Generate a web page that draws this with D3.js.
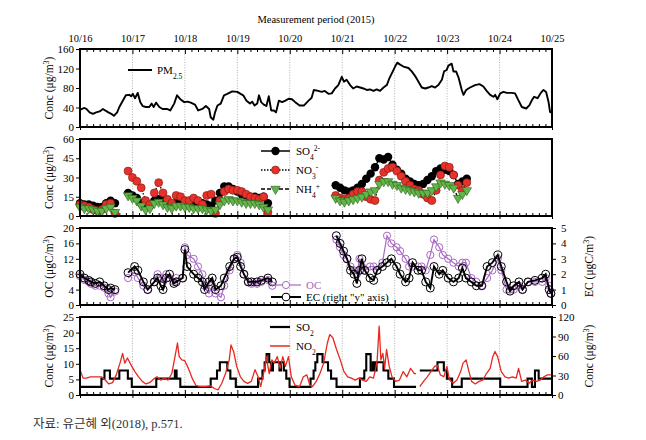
<!DOCTYPE html>
<html><head><meta charset="utf-8">
<script src="https://cdn.jsdelivr.net/npm/d3@7"></script>
<style>
body{margin:0;background:#fff;}
svg{display:block;font-family:"Liberation Serif","Times New Roman",serif;}
</style></head><body>
<svg id="c" width="646" height="440"></svg>
<script>
// ---------- data ----------
const dayLabels = ["10/16","10/17","10/18","10/19","10/20","10/21","10/22","10/23","10/24","10/25"];
const dayHours = [0,24,48,72,96,120,144,168,192,216];
const minorHours = [3,6,9,12,15,18,21,27,30,33,36,39,42,45,51,54,57,60,63,66,69,75,78,81,84,87,90,93,99,102,105,108,111,114,117,123,126,129,132,135,138,141,147,150,153,156,159,162,165,171,174,177,180,183,186,189,195,198,201,204,207,210,213];

// PM2.5 (hours since 10/16 00:00, µg/m3)
const pmHours = [0,1.8,2.9,4.4,5.9,7.4,9,10.5,11.5,13,14.3,15.5,17,18,19.6,21,22.6,23.4,24.2,25.2,26.4,27.6,28.7,30.2,31.7,32.8,33.7,34.8,36.3,37.8,39.8,41.3,43.1,44.4,45.9,47.7,49.2,50.7,52.6,54.1,56,57.6,59.1,59.8,61,61.8,62.9,64.4,65.9,67.4,69.7,72,73.5,74.7,76.2,77.8,78.8,79.9,81.1,81.9,82.9,84.1,85.3,86.4,87.5,88.7,89.7,91,92.5,94,95.5,97,98.5,100.5,102.4,104.6,106,107,109,110.6,112,113.7,115.2,116.7,118.2,119.8,120.8,122,123.6,125,126.6,128.2,129.7,131.2,132.7,134.3,135.8,137.3,138.9,140.4,141.6,142.7,144.2,145.2,146.5,148,150.3,151.8,153.3,154.9,156.4,158,159.4,161,162.5,164,165.6,166.6,167.8,168.6,170.1,170.9,172.1,173.2,174.7,175.5,176.7,178.5,180.8,182.8,184.6,186.1,187.7,189.2,190,191,192.3,193.8,195.3,197.6,199.1,200.6,202.2,204.2,205.7,206.8,207.8,209.4,210.9,212.1,213.3,214.4,215.1,216];
const pmValues = [35,39,37,30,27,30,32,37,34,30,27,23,30,41,54,65,66,63,68,59,70,51,43,41,41,48,41,50,41,37,37,34,48,65,57,51,52,50,46,34,37,43,37,20,15,30,44,48,65,68,73,72,68,65,54,48,52,44,48,65,51,46,43,63,34,34,30,54,51,54,58,57,51,44,44,54,60,76,74,72,74,68,69,79,86,103,93,97,86,79,83,81,79,76,77,74,77,74,81,86,100,110,124,132,128,124,121,114,105,93,81,79,81,84,81,86,97,114,117,126,130,114,114,102,76,66,76,81,86,88,83,74,66,62,66,57,69,72,70,70,69,55,41,38,45,55,62,59,70,76,72,52,31,29];

// Water-soluble ions (3 measurement segments)
const ionHours = [
  [0,2,4,6,8,10,12,14,16],
  [22,24,26,28,30,32,34,36,38,40,42,44,46,48,50,52,54,56,58,60,62,64,66,68,70,72,74,76,78,80,82,84,86],
  [117,119,121,123,125,127,129,131,133,135,137,139,141,143,145,147,149,151,153,155,157,159,161,163,165,167,169,171,173,175,177]
];
const so4 = [
  [10,9,9,8,7,7,10,12,10],
  [18,16,14,10,7,8,12,13,12,10,9,10,10,9,9,8,9,10,9,8,12,18,23,23,21,19,17,16,15,15,14,15,10],
  [24,22,20,19,20,22,25,29,33,38,45,44,46,40,36,33,29,27,25,24,25,28,31,35,37,36,35,32,25,27,29]
];
const no3 = [
  [9,8,7,5,4,5,9,10,2],
  [35,30,27,22,12,9,18,26,18,13,10,16,15,12,12,14,12,9,16,17,2,12,19,21,20,20,19,17,15,14,13,15,3],
  [16,14,13,14,17,19,19,15,13,12,28,34,37,38,35,31,27,24,21,20,17,14,12,20,32,39,38,32,24,20,26]
];
const nh4 = [
  [7,6,6,5,4,4,6,7,3],
  [16,14,12,8,5,6,10,11,9,7,6,8,8,7,7,6,6,6,5,4,5,9,12,13,12,12,11,10,10,10,9,7,5],
  [14,12,11,12,13,14,15,17,19,20,25,27,27,25,24,22,21,20,19,18,18,18,20,23,26,25,24,22,14,17,20]
];

// OC (left axis, µgC/m3) and EC (right axis, µgC/m3)
const carbonHours = [
  [0,2,4,5,7,9,11,13,14,16],
  [22,25,26.5,29,31,34,35.5,37,38,39.5,41,43,44,47,48,49,52,54,56,57,59,60.5,62,64.5,66,68.5,70.5,72,73.5,75,77,78.5,81,83,86,88],
  [117.3,119,120.6,122.2,123.8,125.4,126.7,127.9,129,130.3,132.7,134.4,136,138.4,140.5,142.5,144.9,146.5,149,150.6,152.2,154.7,156.3,158.2,160.3,162,164.4,166,168.5,170.9,173.3,175,176.6,179.1,181.4,183.9,186.3,188.7,191.2,192.8,195.2,196.8,198.5,200.9,202.5,205,208.2,211.5,213.1,214.7,215.5]
];
const ocValues = [
  [7.5,6.5,6,5.5,5,5,4.5,3,2,3.5],
  [7,8.5,7,5,4,6,8,7,6,8,7,6,7,7,15,13,12,10,8,5,3,5,3,2,5,9,12,13,11,8,6,5.5,5.5,6,6.5,5],
  [17,15,13,12,10,9,8,12,10,9,10,10,9,11,18,16,15,14,12,10,10,10,10,9,13,17,15,13,12,11,10,11,11,7,6,5,7,9,12,9,4,4,4,5,4,6,6,6,7,5,3]
];
const ecValues = [
  [2.0,1.75,1.6,1.5,1.4,1.5,1.25,1.0,1.1,1.0],
  [2.1,2.5,2.25,1.5,1.0,1.5,1.75,1.25,1.0,1.75,2.0,1.4,1.5,1.75,3.6,2.5,2.0,1.75,1.5,1.0,1.5,1.75,1.0,1.25,1.75,2.5,3.0,3.1,2.5,2.0,1.5,1.5,1.5,1.6,1.75,1.5],
  [4.5,4.0,3.5,3.0,2.25,2.0,1.4,2.25,3.0,2.25,1.75,1.6,2.25,2.5,2.75,3.0,2.5,2.0,1.5,1.75,2.75,2.25,2.25,1.5,1.1,2.5,2.0,2.25,1.75,1.5,1.75,2.4,1.75,1.5,1.25,1.25,2.5,2.75,3.25,2.5,1.5,0.9,1.25,1.5,1.0,1.5,1.6,1.75,2.0,1.0,0.75]
];

// SO2 (left axis, step changes) and NO2 (right axis)
const so2Hours = [
  [0,9.8,11.2,13.7,18,21.9,23.7,34.9,43.4,44.2,45.9,59.8,62.7,64,67.4,68.8,71.3,81.5,83.5,84.5,85.4,86.6,87.4,88.3,91.3,92,93.3,94.4,95.9,105.5,106.9,107.7,108.6,111,113.5,114.9,117.4,128.1,130.1,131,133,134,134.8,135.7,138.9,141.1,143.7,153.8],
  [155.5,163.6,166.5,167.9,170.3,174.7,192.3,204.8,206.8,208.2,209.9,216]
];
const so2Values = [
  [2.62,5.24,7.86,5.24,7.86,5.24,2.62,5.24,7.86,5.24,2.62,5.24,7.86,10.48,7.86,5.24,2.62,5.24,7.86,10.48,13.1,10.48,7.86,10.48,7.86,10.48,7.86,5.24,2.62,5.24,7.86,10.48,13.1,10.48,7.86,5.24,2.62,5.24,7.86,13.1,7.86,10.48,7.86,10.48,7.86,5.24,2.62,2.62],
  [7.86,10.48,7.86,5.24,2.62,5.24,2.62,5.24,2.62,7.86,5.24,5.24]
];
const no2Hours = [
  [0,1.4,3.0,4.7,7.3,9.8,11.5,13.2,14.9,16.6,18.3,19.5,20.5,21.7,23.4,25.1,26.8,28.5,30.2,31.8,33.5,35.2,36.9,38.6,40.3,42,43.2,44.6,45.4,46.6,47.9,49.6,51.3,53,54.7,57.3,59.8,61.5,63.2,64.9,66.6,68.3,69.1,70.3,71.7,73.4,75,76.7,78.4,80.1,81.5,82.7,84.4,85.2,86.6,87.8,88.9,90.3,91.6,92.8,94,95.4,96.7,98.4,100.5,102.2,103.8,105.2,106.4,108.1,109.8,111.5,113.2,114.3,115.7,117.4,119.1,120.8,122.5,124.2,125.9,127.6,129.3,131,132.6,134.3,135.2,136,136.9,137.7,138.6,139.4,140.3,141.5,142.8,144.5,146.2,147.9,149.6,151.3,153,153.8],
  [155.5,157.2,158.9,160.6,162.3,163.5,164.9,166.5,167.9,169.1,170.8,172.5,174.2,175.3,176.7,178,179.2,180.9,182.6,184.3,186,187.7,188.9,189.9,191.1,192.8,194.5,196.2,197.9,199.6,200.7,202.1,203.8,205.5,207.2,208.9,210.6,212.3,213.9,216]
];
const no2Values = [
  [39,26,26,28,28,28,23,17,19,31,49,64,49,57,46,36,28,21,17,19,24,28,23,26,23,33,54,80,59,54,53,41,26,15,13,13,14,10,8,18,33,54,77,67,44,28,21,18,21,39,28,13,39,59,33,54,49,59,41,59,44,59,28,15,13,28,31,15,13,21,33,49,80,93,88,70,54,36,28,26,23,26,23,21,28,26,39,54,106,54,64,41,70,44,28,21,23,36,28,41,33,33],
  [13,21,28,36,44,46,31,28,44,23,18,23,36,49,54,36,21,17,21,23,33,41,59,67,59,36,28,26,28,26,41,21,23,18,23,21,23,28,31,31]
];

// ---------- drawing ----------
const svg = d3.select("#c");
const x = d3.scaleLinear().domain([0,216]).range([80,552]);
const P = [{t:49,b:127},{t:139,b:216},{t:228,b:305},{t:317,b:395}];
const y1 = d3.scaleLinear().domain([0,160]).range([P[0].b,P[0].t]);
const y2 = d3.scaleLinear().domain([0,60]).range([P[1].b,P[1].t]);
const y3 = d3.scaleLinear().domain([0,20]).range([P[2].b,P[2].t]);
const y3r = d3.scaleLinear().domain([0,5]).range([P[2].b,P[2].t]);
const y4 = d3.scaleLinear().domain([0,25]).range([P[3].b,P[3].t]);
const y4r = d3.scaleLinear().domain([0,120]).range([P[3].b,P[3].t]);
const TF = 11;
const FONT = '"Liberation Serif","Times New Roman",serif';

function styleAxis(g){
  g.select(".domain").remove();
  g.selectAll("line").attr("stroke","#000").attr("stroke-width",1);
  g.selectAll("text").attr("font-size",TF).attr("fill","#000").attr("font-family",FONT);
}

// title
svg.append("text").attr("x",316).attr("y",23).attr("text-anchor","middle")
  .attr("font-size",10.5).text("Measurement period (2015)");

P.forEach((p,i)=>{
  svg.append("g").selectAll("line").data(dayHours.slice(1,-1)).join("line")
    .attr("x1",d=>x(d)).attr("x2",d=>x(d)).attr("y1",p.t).attr("y2",p.b)
    .attr("stroke","#9a9a9a").attr("stroke-width",0.8).attr("stroke-dasharray","1,1.6");
  svg.append("g").attr("transform",`translate(0,${p.b})`)
    .call(d3.axisBottom(x).tickValues(minorHours).tickSize(-3).tickFormat("")).call(styleAxis);
  svg.append("g").attr("transform",`translate(0,${p.b})`)
    .call(d3.axisBottom(x).tickValues(dayHours).tickSize(-5).tickFormat("")).call(styleAxis);
  svg.append("g").attr("transform",`translate(0,${p.b})`)
    .call(d3.axisBottom(x).tickValues(dayHours).tickSize(3).tickFormat("")).call(styleAxis);
});
svg.append("g").attr("transform",`translate(0,${P[0].t})`)
  .call(d3.axisTop(x).tickValues(minorHours).tickSize(-3).tickFormat("")).call(styleAxis);
svg.append("g").attr("transform",`translate(0,${P[0].t})`)
  .call(d3.axisTop(x).tickValues(dayHours).tickSize(-5).tickPadding(7)
    .tickFormat((d,i)=>dayLabels[i])).call(styleAxis)
  .call(g=>g.selectAll("text").attr("font-size",10.5));

const fmt = d3.format("d");
function leftAxis(scale, vals){
  svg.append("g").attr("transform",`translate(80,0)`)
    .call(d3.axisLeft(scale).tickValues(vals).tickSize(4).tickPadding(2).tickFormat(fmt)).call(styleAxis);
}
function rightAxis(scale, vals, pad){
  svg.append("g").attr("transform",`translate(552,0)`)
    .call(d3.axisRight(scale).tickValues(vals).tickSize(4).tickPadding(pad).tickFormat(fmt)).call(styleAxis);
}
leftAxis(y1,[0,40,80,120,160]);
leftAxis(y2,[0,15,30,45,60]);
leftAxis(y3,[0,4,8,12,16,20]);
rightAxis(y3r,[0,1,2,3,4,5],5);
leftAxis(y4,[0,5,10,15,20,25]);
rightAxis(y4r,[0,30,60,90,120],2);

function yTitle(xp, yc, main, unitPrefix){
  const t = svg.append("text").attr("transform",`translate(${xp},${yc}) rotate(-90)`)
    .attr("text-anchor","middle").attr("font-size",11.5);
  t.append("tspan").text(main+" ("+unitPrefix+"/m");
  t.append("tspan").attr("baseline-shift","super").attr("font-size",8).text("3");
  t.append("tspan").text(")");
}
yTitle(53,(P[0].t+P[0].b)/2,"Conc","μg");
yTitle(53,(P[1].t+P[1].b)/2,"Conc","μg");
yTitle(53,(P[2].t+P[2].b)/2,"OC","μgC");
yTitle(53,(P[3].t+P[3].b)/2,"Conc","μg");
yTitle(593,(P[2].t+P[2].b)/2,"EC","μgC");
yTitle(593,(P[3].t+P[3].b)/2,"Conc","μg");

// ---- panel 1: PM2.5
const pmData = pmHours.map((h,i)=>[h,pmValues[i]]);
svg.append("path").datum(pmData)
  .attr("d",d3.line().x(d=>x(d[0])).y(d=>y1(d[1])))
  .attr("fill","none").attr("stroke","#000").attr("stroke-width",1.9).attr("stroke-linejoin","round");

// ---- panel 2: ions
const RED="#e6322a", GREEN="#62b548", PURPLE="#a868c4", NO2RED="#e8281e";
const tri = d3.symbol().type(d3.symbolTriangle).size(38);
function ionSeries(vals, dash, drawMarker){
  ionHours.forEach((hs,s)=>{
    const data = hs.map((h,i)=>[h,vals[s][i]]);
    svg.append("path").datum(data)
      .attr("d",d3.line().x(d=>x(d[0])).y(d=>y2(d[1])))
      .attr("fill","none").attr("stroke","#000").attr("stroke-width",1.3)
      .attr("stroke-dasharray",dash);
    const g = svg.append("g");
    data.forEach(d=>drawMarker(g, x(d[0]), y2(d[1])));
  });
}
function blackDot(g,cx,cy){ g.append("circle").attr("cx",cx).attr("cy",cy).attr("r",4.2).attr("fill","#000"); }
function redDot(g,cx,cy){ g.append("circle").attr("cx",cx).attr("cy",cy).attr("r",4).attr("fill",RED).attr("stroke","#7a1a12").attr("stroke-width",0.6); }
function greenTri(g,cx,cy){ g.append("path").attr("d",tri()).attr("transform",`translate(${cx},${cy}) rotate(180)`).attr("fill",GREEN).attr("stroke","#2b5a1c").attr("stroke-width",0.6); }
ionSeries(so4,null,blackDot);
ionSeries(no3,"1.5,1.5",redDot);
ionSeries(nh4,"4,2",greenTri);

// ---- panel 3: OC / EC
carbonHours.forEach((hs,s)=>{
  const data = hs.map((h,i)=>[h,ocValues[s][i]]);
  svg.append("path").datum(data).attr("d",d3.line().x(d=>x(d[0])).y(d=>y3(d[1])))
    .attr("fill","none").attr("stroke",PURPLE).attr("stroke-width",1.2);
  svg.append("g").selectAll("circle").data(data).join("circle")
    .attr("cx",d=>x(d[0])).attr("cy",d=>y3(d[1])).attr("r",3.6)
    .attr("fill","none").attr("stroke",PURPLE).attr("stroke-width",1);
});
carbonHours.forEach((hs,s)=>{
  const data = hs.map((h,i)=>[h,ecValues[s][i]]);
  svg.append("path").datum(data).attr("d",d3.line().x(d=>x(d[0])).y(d=>y3r(d[1])))
    .attr("fill","none").attr("stroke","#000").attr("stroke-width",1.9);
  svg.append("g").selectAll("circle").data(data).join("circle")
    .attr("cx",d=>x(d[0])).attr("cy",d=>y3r(d[1])).attr("r",4)
    .attr("fill","none").attr("stroke","#000").attr("stroke-width",1);
});

// ---- panel 4: SO2 / NO2
so2Hours.forEach((hs,s)=>{
  const data = hs.map((h,i)=>[h,so2Values[s][i]]);
  svg.append("path").datum(data).attr("d",d3.line().curve(d3.curveStepAfter).x(d=>x(d[0])).y(d=>y4(d[1])))
    .attr("fill","none").attr("stroke","#000").attr("stroke-width",2.1);
});
no2Hours.forEach((hs,s)=>{
  const data = hs.map((h,i)=>[h,no2Values[s][i]]);
  svg.append("path").datum(data).attr("d",d3.line().x(d=>x(d[0])).y(d=>y4r(d[1])))
    .attr("fill","none").attr("stroke",NO2RED).attr("stroke-width",1.3).attr("stroke-linejoin","round");
});

// frames
P.forEach(p=>{
  svg.append("rect").attr("x",80).attr("y",p.t).attr("width",472).attr("height",p.b-p.t)
    .attr("fill","none").attr("stroke","#000").attr("stroke-width",2);
});

// ---- legends
function legText(xp, yp, parts, color){
  const t = svg.append("text").attr("x",xp).attr("y",yp).attr("font-size",11).attr("fill",color||"#000");
  parts.forEach(([s,kind])=>{
    const ts = t.append("tspan").text(s);
    if(kind==="sub") ts.attr("baseline-shift","sub").attr("font-size",7.5);
    if(kind==="sup") ts.attr("baseline-shift","super").attr("font-size",7.5);
  });
  return t;
}
svg.append("line").attr("x1",128).attr("x2",152).attr("y1",70).attr("y2",70).attr("stroke","#000").attr("stroke-width",2);
legText(157,74,[["PM",""],["2.5","sub"]]);
[[151,null,blackDot,[["SO",""],["4","sub"],["2-","sup"]]],
 [170,"1.5,1.5",redDot,[["NO",""],["3","sub"],["-","sup"]]],
 [189,"4,2",greenTri,[["NH",""],["4","sub"],["+","sup"]]]].forEach(([yy,dash,mk,txt])=>{
  svg.append("line").attr("x1",261).attr("x2",290).attr("y1",yy).attr("y2",yy)
    .attr("stroke","#000").attr("stroke-width",1.5).attr("stroke-dasharray",dash);
  mk(svg.append("g"),275.5,yy);
  legText(296,yy+4,txt);
});
svg.append("line").attr("x1",271).attr("x2",301).attr("y1",285).attr("y2",285).attr("stroke",PURPLE).attr("stroke-width",1.2);
svg.append("circle").attr("cx",286).attr("cy",285).attr("r",3.6).attr("fill","#fff").attr("stroke",PURPLE).attr("stroke-width",1);
legText(306,289,[["OC",""]],PURPLE);
svg.append("line").attr("x1",271).attr("x2",301).attr("y1",297).attr("y2",297).attr("stroke","#000").attr("stroke-width",2);
svg.append("circle").attr("cx",286).attr("cy",297).attr("r",3.8).attr("fill","#fff").attr("stroke","#000").attr("stroke-width",1.1);
legText(306,301,[["EC (right \"y\" axis)",""]]);
svg.append("line").attr("x1",270).attr("x2",290).attr("y1",327).attr("y2",327).attr("stroke","#000").attr("stroke-width",2.2);
legText(296,331,[["SO",""],["2","sub"]]);
svg.append("line").attr("x1",270).attr("x2",290).attr("y1",346).attr("y2",346).attr("stroke",NO2RED).attr("stroke-width",1.5);
legText(296,350,[["NO",""],["2","sub"]]);

// footer
svg.append("text").attr("x",33).attr("y",428).attr("font-size",12.5).attr("fill","#333")
  .attr("font-family",'"Liberation Serif","Noto Sans CJK KR",serif')
  .text("자료: 유근혜 외(2018), p.571.");
</script>
</body></html>
